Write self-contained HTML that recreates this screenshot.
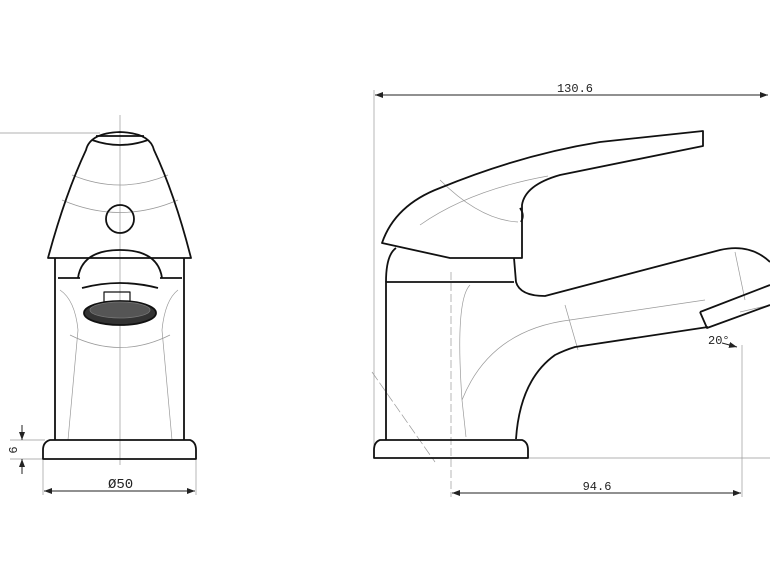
<!DOCTYPE html>
<html><head><style>body{margin:0;background:#fff}svg{display:block}</style></head><body>
<svg width="770" height="578" viewBox="0 0 770 578" xmlns="http://www.w3.org/2000/svg" font-family="Liberation Mono, monospace">
<defs><marker id="a" markerWidth="8" markerHeight="6" refX="8" refY="3" orient="auto-start-reverse"><path d="M0,0 L8,3 L0,6 z" fill="#222"/></marker></defs>
<g fill="none" stroke="#999" stroke-width="0.7">
<line x1="120" y1="115" x2="120" y2="465"/>
<line x1="0" y1="133" x2="100" y2="133"/>
<line x1="43" y1="460" x2="43" y2="495"/><line x1="196" y1="460" x2="196" y2="495"/>
<line x1="10" y1="440" x2="45" y2="440"/><line x1="10" y1="459" x2="45" y2="459"/>
<line x1="374" y1="90" x2="374" y2="455"/>
<line x1="451" y1="272" x2="451" y2="497" stroke-dasharray="8,3"/>
<line x1="742" y1="345" x2="742" y2="497"/>
<line x1="528" y1="458" x2="770" y2="458"/>
<line x1="372" y1="372" x2="435" y2="462" stroke-dasharray="10,3"/>
<line x1="740" y1="312" x2="770" y2="305"/>
<path d="M60 290 Q75 300 78 330 L68 440 M178 290 Q165 300 162 330 L172 440"/>
<path d="M70 335 Q120 360 170 335"/>
<path d="M62 200 Q120 225 178 200 M72 175 Q120 195 168 175"/>
<path d="M470 285 Q455 300 462 400 L466 437 M462 400 Q490 330 570 320 L705 300"/>
<path d="M565 305 L578 350 M735 252 L745 300 M420 225 Q470 190 548 176 M440 180 Q480 220 518 222"/>
</g>
<g fill="none" stroke="#222" stroke-width="1">
<line x1="22" y1="425" x2="22" y2="440" marker-end="url(#a)"/>
<line x1="22" y1="474" x2="22" y2="459" marker-end="url(#a)"/>
<line x1="44" y1="491" x2="195" y2="491" marker-start="url(#a)" marker-end="url(#a)"/>
<line x1="375" y1="95" x2="768" y2="95" marker-start="url(#a)" marker-end="url(#a)"/>
<line x1="452" y1="493" x2="741" y2="493" marker-start="url(#a)" marker-end="url(#a)"/>
<path d="M722 343 L737 347" marker-end="url(#a)"/>
</g>
<g fill="none" stroke="#111" stroke-width="1.8" stroke-linejoin="round">
<path d="M48 258 Q65 195 86 150 Q90 133 120 132 Q150 133 154 150 Q175 195 191 258 Z"/>
<path d="M92 140 Q120 150 148 140 M96 136 L144 136"/>
<circle cx="120" cy="219" r="14"/>
<path d="M55 258 L55 440 M184 258 L184 440 M58 278 L80 278 M160 278 L182 278"/>
<path d="M78 278 Q82 250 120 250 Q158 250 162 278"/>
<path d="M82 288 Q120 278 158 288"/>
<rect x="104" y="292" width="26" height="10" stroke-width="1.2"/>
<ellipse cx="120" cy="313" rx="36" ry="12" fill="#333" stroke="#111"/>
<ellipse cx="120" cy="310" rx="30" ry="8" fill="#555" stroke="#777" stroke-width="0.8"/>
<path d="M50 440 L190 440 Q196 442 196 450 L196 459 L43 459 L43 450 Q43 442 50 440 Z"/>
<path d="M380 440 L522 440 Q528 442 528 450 L528 458 L374 458 L374 450 Q374 442 380 440 Z"/>
<path d="M386 440 L386 282 L514 282"/>
<path d="M386 282 Q386 255 396 248"/>
<path d="M382 243 Q395 205 440 188 Q520 155 600 142 L703 131 L703 146 L560 175 Q525 185 522 205 L522 258 L450 258 Z"/>
<path d="M514 258 L516 282 Q520 296 545 296 L720 250 Q750 243 770 262"/>
<path d="M516 439 Q520 380 555 355 Q565 350 575 347 L708 327"/>
<path d="M700 312 L770 285 M700 312 L707 328 L770 305"/>
<path d="M520 208 Q525 215 521 222"/>
</g>
<g fill="#222" font-size="12">
<text x="575" y="92" text-anchor="middle">130.6</text>
<text x="597" y="490" text-anchor="middle">94.6</text>
<text x="108" y="488" font-size="14">Ø50</text>
<text x="708" y="344">20°</text>
<text transform="translate(17,450) rotate(-90)" text-anchor="middle">6</text>
</g>
</svg>
</body></html>
